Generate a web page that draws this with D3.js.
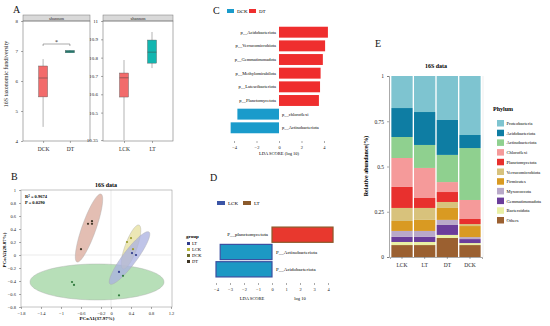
<!DOCTYPE html>
<html>
<head>
<meta charset="utf-8">
<script src="https://cdn.jsdelivr.net/npm/d3@7"></script>
<style>
  body { margin: 0; background: #fff; }
  svg { display: block; }
</style>
</head>
<body>
<div id="chart"></div>
<script>
// ---- data: panel A (shannon boxplots: min, q1, median, q3, max)
const shannonGroupsLeft = ['DCK', 'DT'];
const shannonStatsLeft = [[4.47, 5.47, 6.1, 6.5, 6.73], [6.94, 6.94, 6.98, 7.02, 7.03]];
const shannonTicksLeft = [4, 5, 6, 7, 8];
const shannonGroupsRight = ['LCK', 'LT'];
const shannonStatsRight = [[10.35, 10.585, 10.69, 10.716, 10.787], [10.743, 10.77, 10.83, 10.896, 10.94]];
const shannonTicksRight = [10.35, 10.5, 10.6, 10.7, 10.8, 10.9, 11];

// ---- data: panel B (PCoA)
const pcoaGroups = ['LT', 'LCK', 'DCK', 'DT'];
const pcoaLT = [[0.16, -0.26], [0.42, 0.03], [0.5, 0.0]];
const pcoaLCK = [[0.32, 0.2], [0.4, 0.26], [0.44, 0.09]];
const pcoaDCK = [[-0.78, -0.415], [-0.74, -0.46], [0.24, -0.32], [0.16, -0.62]];
const pcoaDT = [[-0.46, 0.48], [-0.38, 0.52], [-0.38, 0.48], [-0.6, 0.09]];
// ellipses: centre, half axis 1, half axis 2 (data units)
const ellipseDCK = [[-0.28, -0.415], [1.34, 0], [0, 0.277]];
const ellipseDT = [[-0.44, 0.415], [0.24, 0.523], [0.132, -0.036]];
const ellipseLCK = [[0.4, 0.123], [0.16, 0.338], [0.113, -0.032]];
const ellipseLT = [[0.37, -0.046], [0.39, 0.4], [0.112, -0.065]];
const pcoaXTicks = [-1.8, -1.4, -1, -0.6, -0.2, 0, 0.4, 0.8, 1.2];
const pcoaYTicks = [-0.8, -0.6, -0.4, -0.2, 0, 0.2, 0.4, 0.6, 0.8, 1];

// ---- data: panel C (LDA DCK vs DT)
const ldaCTaxa = ['p__Acidobacteriota', 'p__Verrucomicrobiota', 'p__Gemmatimonadota', 'p__Methylomirabilota',
  'p__Latescibacteriota', 'p__Planctomycetota', 'p__chloroflexi', 'p__Actinobacteriota'];
const ldaCScores = [4.35, 4.1, 3.9, 3.7, 3.65, 3.55, -3.7, -4.3];
const ldaCTicks = [-4, -2, 0, 2, 4];

// ---- data: panel D (LDA LCK vs LT)
const ldaDTaxa = ['P__planctomycetota', 'P__Actinobacteriota', 'P__Acidobacteriota'];
const ldaDScores = [4.36, -3.7, -4.0];
const ldaDTicks = [-4, -3, -2, -1, 0, 1, 2, 3, 4];

// ---- data: panel E (relative abundance)
const phyla = ['Proteobacteria', 'Acidobacteriota', 'Actinobacteriota', 'Chloroflexi', 'Planctomycetota',
  'Verrucomicrobiota', 'Firmicutes', 'Myxococcota', 'Gemmatimonadota', 'Bacteroidota', 'Others'];
const samples = ['LCK', 'LT', 'DT', 'DCK'];
const abundLCK = [0.177, 0.16, 0.116, 0.16, 0.116, 0.072, 0.055, 0.033, 0.028, 0.017, 0.066];
const abundLT = [0.199, 0.182, 0.127, 0.166, 0.055, 0.066, 0.061, 0.033, 0.028, 0.017, 0.066];
const abundDT = [0.243, 0.193, 0.15, 0.055, 0.055, 0.033, 0.066, 0.028, 0.055, 0.017, 0.105];
const abundDCK = [0.326, 0.072, 0.287, 0.105, 0.028, 0.011, 0.061, 0.011, 0.022, 0.011, 0.066];
const abundTicks = [0, 0.25, 0.5, 0.75, 1];

const FONT = '"Liberation Serif", "Times New Roman", serif';
const svg = d3.select('#chart').append('svg')
  .attr('width', 550).attr('height', 326)
  .style('font-family', FONT);
svg.append('rect').attr('width', 550).attr('height', 326).attr('fill', '#fff');

function styleAxis(sel, size) {
  sel.selectAll('text').style('font-family', FONT).style('font-size', size + 'px').attr('fill', '#222');
  sel.selectAll('line').attr('stroke', '#555').attr('stroke-width', 0.5);
  sel.selectAll('path').attr('stroke', '#555').attr('stroke-width', 0.5);
}

function panelLetter(x, y, t) {
  svg.append('text').attr('x', x).attr('y', y).text(t)
    .style('font-size', '10px').attr('fill', '#111');
}

// ================= Panel A =================
panelLetter(13, 13, 'A');

function boxFacet(groups, stats, colors, domain, ticks, x0, x1) {
  const top = 21, bottom = 141;
  const x = d3.scalePoint().domain(groups).range([x0, x1]).padding(0.75);
  const y = d3.scaleLinear().domain(domain).range([bottom, top]);
  const g = svg.append('g');

  g.append('rect').attr('x', x0).attr('y', 15).attr('width', x1 - x0).attr('height', 6)
    .attr('fill', '#d9d9d9').attr('stroke', '#777').attr('stroke-width', 0.5);
  g.append('text').attr('x', (x0 + x1) / 2).attr('y', 19.8).attr('text-anchor', 'middle')
    .style('font-size', '4.5px').attr('fill', '#222').text('shannon');

  g.append('rect').attr('x', x0).attr('y', top).attr('width', x1 - x0).attr('height', bottom - top)
    .attr('fill', 'none').attr('stroke', '#777').attr('stroke-width', 0.6);

  const ay = g.append('g').attr('transform', `translate(${x0},0)`)
    .call(d3.axisLeft(y).tickValues(ticks).tickSize(2).tickFormat(d => d3.format('~g')(d)));
  ay.select('.domain').remove();
  styleAxis(ay, 5);

  const ax = g.append('g').attr('transform', `translate(0,${bottom})`)
    .call(d3.axisBottom(x).tickSize(2));
  ax.select('.domain').remove();
  styleAxis(ax, 5.5);
  ax.selectAll('text').attr('dy', '0.9em');

  const bw = 9;
  groups.forEach((grp, i) => {
    const s = stats[i];
    const cx = x(grp);
    g.append('line').attr('x1', cx).attr('x2', cx).attr('y1', y(s[0])).attr('y2', y(s[4]))
      .attr('stroke', '#666').attr('stroke-width', 0.5);
    g.append('rect').attr('x', cx - bw / 2).attr('y', y(s[3])).attr('width', bw)
      .attr('height', Math.max(1.5, y(s[1]) - y(s[3])))
      .attr('fill', colors[i]).attr('stroke', '#555').attr('stroke-width', 0.4);
    g.append('line').attr('x1', cx - bw / 2).attr('x2', cx + bw / 2).attr('y1', y(s[2])).attr('y2', y(s[2]))
      .attr('stroke', '#444').attr('stroke-width', 0.5);
  });
  return { x, y };
}

const facetL = boxFacet(shannonGroupsLeft, shannonStatsLeft, ['#f26b6b', '#139e8c'], [4, 8], shannonTicksLeft, 23, 90);
boxFacet(shannonGroupsRight, shannonStatsRight, ['#f26b6b', '#12b6b0'], [10.345, 11], shannonTicksRight, 103, 173);

// significance bracket
{
  const xa = facetL.x('DCK'), xb = facetL.x('DT'), yb = 44;
  svg.append('path').attr('d', `M${xa},${yb + 2}V${yb}H${xb}V${yb + 2}`)
    .attr('fill', 'none').attr('stroke', '#555').attr('stroke-width', 0.5);
  svg.append('text').attr('x', (xa + xb) / 2).attr('y', yb - 0.5).attr('text-anchor', 'middle')
    .style('font-size', '6px').attr('fill', '#222').text('*');
}
svg.append('text').attr('transform', 'translate(8,74) rotate(-90)').attr('text-anchor', 'middle')
  .style('font-size', '6px').attr('fill', '#222').text('16S taxonomic fundiversity');

// ================= Panel B =================
panelLetter(11, 180, 'B');
{
  const x = d3.scaleLinear().domain([-1.8, 1.2]).range([21, 171]);
  const y = d3.scaleLinear().domain([-0.8, 1]).range([307, 190]);
  const g = svg.append('g');

  g.append('text').attr('x', 106).attr('y', 187).attr('text-anchor', 'middle')
    .style('font-size', '6px').style('font-weight', 'bold').text('16S data');

  g.append('line').attr('x1', x(-1.8)).attr('x2', x(1.2)).attr('y1', y(0)).attr('y2', y(0))
    .attr('stroke', '#ddd').attr('stroke-width', 0.6);
  g.append('line').attr('x1', x(0)).attr('x2', x(0)).attr('y1', y(1)).attr('y2', y(-0.8))
    .attr('stroke', '#ddd').attr('stroke-width', 0.6);

  const ellipses = [[ellipseDCK, '#9fd4a0'], [ellipseDT, '#d9a89a'], [ellipseLCK, '#e6df9c'], [ellipseLT, '#aab0e0']];
  const line = d3.line().curve(d3.curveLinearClosed);
  ellipses.forEach(([e, col]) => {
    const pts = d3.range(0, 360, 4).map(a => {
      const t = a * Math.PI / 180;
      const dx = e[0][0] + Math.cos(t) * e[1][0] + Math.sin(t) * e[2][0];
      const dy = e[0][1] + Math.cos(t) * e[1][1] + Math.sin(t) * e[2][1];
      return [x(dx), y(dy)];
    });
    g.append('path').attr('d', line(pts)).attr('fill', col).attr('fill-opacity', 0.75)
      .attr('stroke', '#aaa').attr('stroke-width', 0.4);
  });

  const pointSets = [[pcoaDCK, '#2f7a3c'], [pcoaDT, '#3c3424'], [pcoaLCK, '#9a9a2a'], [pcoaLT, '#2f3c8c']];
  pointSets.forEach(([pts, col]) => {
    g.selectAll(null).data(pts).enter().append('circle')
      .attr('cx', d => x(d[0])).attr('cy', d => y(d[1])).attr('r', 1.1).attr('fill', col);
  });

  g.append('rect').attr('x', 21).attr('y', 190).attr('width', 151).attr('height', 117)
    .attr('fill', 'none').attr('stroke', '#888').attr('stroke-width', 0.5);

  const ax = g.append('g').attr('transform', 'translate(0,307)')
    .call(d3.axisBottom(x).tickValues(pcoaXTicks).tickSize(2).tickFormat(d3.format('~g')));
  ax.select('.domain').remove();
  styleAxis(ax, 4.5);
  const ay = g.append('g').attr('transform', 'translate(21,0)')
    .call(d3.axisLeft(y).tickValues(pcoaYTicks).tickSize(2).tickFormat(d3.format('~g')));
  ay.select('.domain').remove();
  styleAxis(ay, 4.5);

  g.append('text').attr('x', 97).attr('y', 320).attr('text-anchor', 'middle')
    .style('font-size', '5px').style('font-weight', 'bold').text('PCoA1(37.97%)');
  g.append('text').attr('transform', 'translate(6,250) rotate(-90)').attr('text-anchor', 'middle')
    .style('font-size', '5px').style('font-weight', 'bold').text('PCoA2(28.87%)');

  g.append('text').attr('x', 25).attr('y', 198).style('font-size', '4.5px').style('font-weight', 'bold')
    .html('R<tspan dy="-1.5" font-size="3px">2</tspan><tspan dy="1.5"> = 0.9674</tspan>');
  g.append('text').attr('x', 25).attr('y', 204).style('font-size', '4.5px').style('font-weight', 'bold')
    .text('P = 0.0290');

  // legend
  const leg = g.append('g').attr('transform', 'translate(186,238)');
  leg.append('text').attr('x', 0).attr('y', 0).style('font-size', '5px').style('font-weight', 'bold').text('group');
  const legCols = { LT: '#2f3c8c', LCK: '#b8b83a', DCK: '#6b6b2c', DT: '#3c3424' };
  pcoaGroups.forEach((grp, i) => {
    leg.append('rect').attr('x', 1).attr('y', 4 + i * 6).attr('width', 3).attr('height', 3).attr('fill', legCols[grp]);
    leg.append('text').attr('x', 6).attr('y', 7 + i * 6).style('font-size', '4.5px').text(grp);
  });
}

// ================= Panel C =================
panelLetter(213, 14, 'C');
{
  const x = d3.scaleLinear().domain([-4.5, 4.5]).range([228.4, 329.6]);
  const y = d3.scaleBand().domain(ldaCTaxa).range([24, 136]).padding(0.2);
  const g = svg.append('g');

  g.append('rect').attr('x', 227).attr('y', 9).attr('width', 7).attr('height', 4).attr('fill', '#1a9bcb');
  g.append('text').attr('x', 237).attr('y', 13).style('font-size', '5px').text('DCK');
  g.append('rect').attr('x', 249).attr('y', 9).attr('width', 7).attr('height', 4).attr('fill', '#ef2e2e');
  g.append('text').attr('x', 259).attr('y', 13).style('font-size', '5px').text('DT');

  ldaCTaxa.forEach((t, i) => {
    const v = ldaCScores[i];
    g.append('rect').attr('x', x(Math.min(0, v))).attr('y', y(t))
      .attr('width', Math.abs(x(v) - x(0))).attr('height', y.bandwidth())
      .attr('fill', v > 0 ? '#ef2e2e' : '#1a9bcb');
    g.append('text').attr('x', v > 0 ? x(0) - 3 : x(0) + 3).attr('y', y(t) + y.bandwidth() / 2 + 1.5)
      .attr('text-anchor', v > 0 ? 'end' : 'start').style('font-size', '4.5px').text(t);
  });

  const ax = g.append('g').attr('transform', 'translate(0,141)')
    .call(d3.axisBottom(x).tickValues(ldaCTicks).tickSize(2));
  ax.select('.domain').remove();
  styleAxis(ax, 4.5);
  g.append('text').attr('x', 279).attr('y', 155).attr('text-anchor', 'middle')
    .style('font-size', '4.5px').text('LDA SCORE (log 10)');
}

// ================= Panel D =================
panelLetter(210, 181, 'D');
{
  const x = d3.scaleLinear().domain([-4, 4]).range([216, 328]);
  const y = d3.scaleBand().domain(ldaDTaxa).range([225, 279]).padding(0.12);
  const g = svg.append('g');

  g.append('rect').attr('x', 217).attr('y', 201).attr('width', 8).attr('height', 4)
    .attr('fill', '#3b55a6');
  g.append('text').attr('x', 228).attr('y', 205).style('font-size', '5px').text('LCK');
  g.append('rect').attr('x', 243).attr('y', 201).attr('width', 8).attr('height', 4)
    .attr('fill', '#8b5a2b');
  g.append('text').attr('x', 254).attr('y', 205).style('font-size', '5px').text('LT');

  ldaDTaxa.forEach((t, i) => {
    const v = ldaDScores[i];
    g.append('rect').attr('x', x(Math.min(0, v))).attr('y', y(t))
      .attr('width', Math.abs(x(v) - x(0))).attr('height', y.bandwidth())
      .attr('fill', v > 0 ? '#e8382e' : '#1c98c4')
      .attr('stroke', v > 0 ? '#8b5a2b' : '#3b4fa0').attr('stroke-width', 1.2);
    g.append('text').attr('x', v > 0 ? x(0) - 4 : x(0) + 4).attr('y', y(t) + y.bandwidth() / 2 + 1.8)
      .attr('text-anchor', v > 0 ? 'end' : 'start').style('font-size', '5px').text(t);
  });

  const ax = g.append('g').attr('transform', 'translate(0,283)')
    .call(d3.axisBottom(x).tickValues(ldaDTicks).tickSize(2));
  ax.select('.domain').remove();
  styleAxis(ax, 4.5);
  g.append('text').attr('x', 252).attr('y', 300).attr('text-anchor', 'middle')
    .style('font-size', '4.5px').text('LDA SCORE');
  g.append('text').attr('x', 300).attr('y', 300).attr('text-anchor', 'middle')
    .style('font-size', '4.5px').text('log 10');
}

// ================= Panel E =================
panelLetter(375, 47, 'E');
{
  const phylumColors = ['#7ec4d0', '#0e7da3', '#8fd08f', '#f59a9a', '#e8302e', '#d8c27c',
    '#d99a22', '#b9a9c9', '#6a3d9a', '#e9f0a4', '#9b6030'];
  const color = d3.scaleOrdinal().domain(phyla).range(phylumColors);
  const abund = [abundLCK, abundLT, abundDT, abundDCK];
  const table = samples.map((s, i) => {
    const row = { sample: s };
    phyla.forEach((p, j) => { row[p] = abund[i][j]; });
    return row;
  });
  const stacked = d3.stack().keys(phyla.slice().reverse())(table);

  const x = d3.scaleBand().domain(samples).range([390, 482]).padding(0.06);
  const y = d3.scaleLinear().domain([0, 1]).range([257, 76]);
  const g = svg.append('g');

  g.append('text').attr('x', 436).attr('y', 68).attr('text-anchor', 'middle')
    .style('font-size', '6px').style('font-weight', 'bold').text('16S data');

  stacked.forEach(layer => {
    g.selectAll(null).data(layer).enter().append('rect')
      .attr('x', d => x(d.data.sample)).attr('width', x.bandwidth())
      .attr('y', d => y(d[1])).attr('height', d => y(d[0]) - y(d[1]))
      .attr('fill', color(layer.key));
  });

  const ay = g.append('g').attr('transform', 'translate(389,0)')
    .call(d3.axisLeft(y).tickValues(abundTicks).tickSize(2).tickFormat(d3.format('~g')));
  styleAxis(ay, 5.5);
  const ax = g.append('g').attr('transform', 'translate(0,257)')
    .call(d3.axisBottom(x).tickSize(2));
  styleAxis(ax, 5.5);
  ax.selectAll('text').attr('dy', '0.9em');
  g.append('line').attr('x1', 483).attr('x2', 483).attr('y1', 76).attr('y2', 257)
    .attr('stroke', '#ddd').attr('stroke-width', 0.5);

  g.append('text').attr('transform', 'translate(368,166) rotate(-90)').attr('text-anchor', 'middle')
    .style('font-size', '6px').style('font-weight', 'bold').text('Relative abundance(%)');

  const leg = g.append('g').attr('transform', 'translate(493,111)');
  leg.append('text').attr('x', 0).attr('y', 0).style('font-size', '6px').style('font-weight', 'bold').text('Phylum');
  phyla.forEach((p, i) => {
    leg.append('rect').attr('x', 4).attr('y', 9 + i * 9.7).attr('width', 7).attr('height', 6.5).attr('fill', color(p));
    leg.append('text').attr('x', 13.5).attr('y', 14 + i * 9.7).style('font-size', '4.5px').text(p);
  });
}
</script>
</body>
</html>
